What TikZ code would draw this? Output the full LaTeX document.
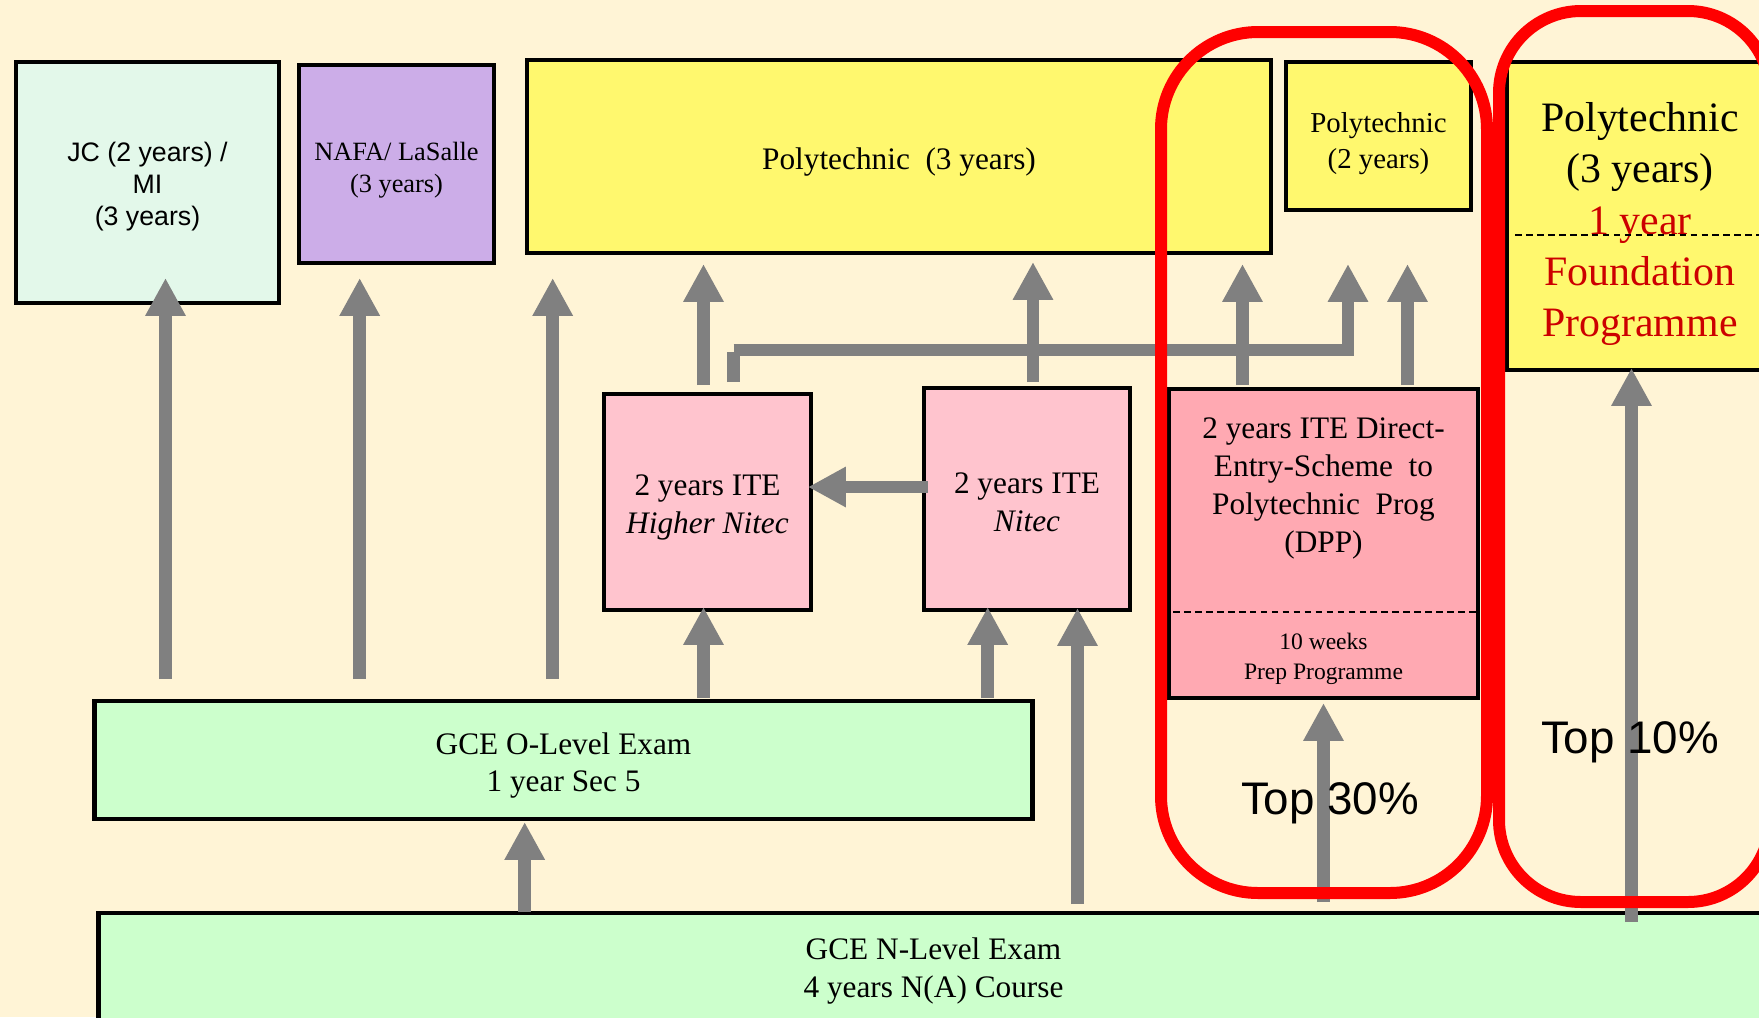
\documentclass[tikz,border=0pt]{standalone}
\usepackage{fontspec}
\setmainfont{Liberation Serif}
\newfontfamily\arialf{Liberation Sans}
\usetikzlibrary{arrows.meta}
\definecolor{bgc}{RGB}{255,244,214}
\definecolor{jcc}{RGB}{227,248,234}
\definecolor{nafac}{RGB}{204,173,232}
\definecolor{polyc}{RGB}{255,248,110}
\definecolor{itec}{RGB}{255,196,206}
\definecolor{dppc}{RGB}{255,169,178}
\definecolor{greenc}{RGB}{204,255,204}
\definecolor{arrc}{RGB}{128,128,128}
\definecolor{redtxt}{RGB}{204,0,0}
\tikzset{
  box/.style={draw=black, line width=1.28pt, inner sep=0pt, outer sep=0pt},
  boxtext/.style={align=center, inner sep=0pt},
  mainfont/.style={font=\fontsize{8.9pt}{10.8pt}\selectfont},
  arr/.style={draw=arrc, line width=3.56pt, -{Triangle[width=10.8pt,length=10.8pt]}},
  plainarr/.style={draw=arrc, line width=3.56pt},
  redbox/.style={draw=red, line width=3.41pt},
  dashline/.style={draw=black, line width=0.57pt, dash pattern=on 1.9pt off 1.22pt},
  toptext/.style={font=\arialf\fontsize{13pt}{15pt}\selectfont, anchor=base, inner sep=0pt}
}
\begin{document}
\begin{tikzpicture}[x=0.01cm,y=-0.01cm]
\useasboundingbox (0,0) rectangle (1759,1017);
\clip (0,0) rectangle (1759,1017);
\fill[bgc] (0,0) rectangle (1759,1017);

% boxes
\node[box, fill=jcc, minimum width=2.63cm, minimum height=2.41cm] (jc) at (147.5,182.5) {};
\node[box, fill=nafac, minimum width=1.95cm, minimum height=1.98cm] (nafa) at (396.5,164) {};
\node[box, fill=polyc, minimum width=7.44cm, minimum height=1.93cm] (poly3) at (899,156.5) {};
\node[box, fill=polyc, minimum width=1.85cm, minimum height=1.48cm] (poly2) at (1378.5,136) {};
\node[box, fill=polyc, minimum width=2.66cm, minimum height=3.08cm] (polyr) at (1640,216) {};
\node[box, fill=itec, minimum width=2.07cm, minimum height=2.16cm] (hn) at (707.5,502) {};
\node[box, fill=itec, minimum width=2.06cm, minimum height=2.22cm] (nt) at (1027,499) {};
\node[box, fill=dppc, minimum width=3.09cm, minimum height=3.09cm] (dpp) at (1323.5,543.5) {};
\node[box, fill=greenc, minimum width=9.37cm, minimum height=1.18cm] (ol) at (563.5,760) {};
\node[box, fill=greenc, minimum width=16.71cm, minimum height=1.08cm] (nl) at (934.5,967) {};

% box texts
\node[boxtext, font=\arialf\fontsize{7.6pt}{9.1pt}\selectfont] (jct) at (147.5,187) {JC (2 years) /\\MI\\(3 years)};
\node[boxtext, font=\fontsize{7.5pt}{9.1pt}\selectfont] (nafat) at (396.5,170.3) {NAFA/ LaSalle\\(3 years)};
\node[boxtext, mainfont] (poly3t) at (899,162.5) {Polytechnic\ \ (3 years)};
\node[boxtext, font=\fontsize{8.2pt}{10.2pt}\selectfont] (poly2t) at (1378.5,143.8) {Polytechnic\\(2 years)};
\node[boxtext, font=\fontsize{11.9pt}{14.6pt}\selectfont] (polyrt) at (1640,224)
  {Polytechnic\\(3 years)\\\textcolor{redtxt}{1 year}\\\textcolor{redtxt}{Foundation}\\\textcolor{redtxt}{Programme}};
\node[boxtext, mainfont] (hnt) at (707.5,507.6) {2 years ITE\\\textit{Higher Nitec}};
\node[boxtext, mainfont] (ntt) at (1027,502.4) {2 years ITE\\\textit{Nitec}};
\node[boxtext, mainfont] (dppt) at (1323.5,488.5)
  {2 years ITE Direct-\\Entry-Scheme\ \ to\\Polytechnic\ \ Prog\\(DPP)};
\node[boxtext, font=\fontsize{6.7pt}{8.5pt}\selectfont] (dpps) at (1323.5,658.5)
  {10 weeks\\Prep Programme};
\node[boxtext, mainfont] (olt) at (563.5,765.5) {GCE O-Level Exam\\1 year Sec 5};
\node[boxtext, mainfont] (nlt) at (933.5,971) {GCE N-Level Exam\\4 years N(A) Course};

% dashed separators
\draw[dashline] (1173,612) -- (1478,612);
\draw[dashline] (1515,235) -- (1780,235);

% connector end points
\coordinate (s1) at (165.5,679);  \coordinate (t1) at (165.5,278);
\coordinate (s2) at (359.7,679);  \coordinate (t2) at (359.7,278);
\coordinate (s3) at (552.7,679);  \coordinate (t3) at (552.7,278);
\coordinate (s4) at (703.5,385);  \coordinate (t4) at (703.5,264);
\coordinate (s5) at (733.7,382);  \coordinate (c5a) at (733.7,350);
\coordinate (c5b) at (1348,350);  \coordinate (t5) at (1348,264);
\coordinate (s6) at (1033,382);   \coordinate (t6) at (1033,262);
\coordinate (s7) at (1242.5,385); \coordinate (t7) at (1242.5,264);
\coordinate (s8) at (1407.5,385); \coordinate (t8) at (1407.5,264);
\coordinate (s9) at (928,487);    \coordinate (t9) at (808,487);
\coordinate (s10) at (703.5,698); \coordinate (t10) at (703.5,607);
\coordinate (s11) at (987.7,698); \coordinate (t11) at (987.7,607);
\coordinate (s12) at (1077.5,904); \coordinate (t12) at (1077.5,608);
\coordinate (s13) at (524.7,912); \coordinate (t13) at (524.7,822);
\coordinate (s14) at (1323.5,902); \coordinate (t14) at (1323.5,703);
\coordinate (s15) at (1631.5,922); \coordinate (t15) at (1631.5,368);

% arrows
\draw[arr] (s1) -- (t1);
\draw[arr] (s2) -- (t2);
\draw[arr] (s3) -- (t3);
\draw[arr] (s4) -- (t4);
\draw[plainarr] (s5) -- (733.7,352);
\draw[arr] (c5a) -- (c5b) -- (t5);
\draw[arr] (s6) -- (t6);
\draw[arr] (s7) -- (t7);
\draw[arr] (s8) -- (t8);
\draw[arr] (s9) -- (t9);
\draw[arr] (s10) -- (t10);
\draw[arr] (s11) -- (t11);
\draw[arr] (s12) -- (t12);
\draw[arr] (s13) -- (t13);
\draw[arr] (s14) -- (t14);
\draw[arr] (s15) -- (t15);

% red groupings
\draw[redbox, rounded corners=0.97cm] (1161,32) rectangle (1487,893);
\draw[redbox, rounded corners=0.82cm] (1499,11) rectangle (1770,902);

% percentages
\node[toptext] (top30) at (1330,814) {Top 30\%};
\node[toptext] (top10) at (1630,753) {Top 10\%};
\end{tikzpicture}
\end{document}
